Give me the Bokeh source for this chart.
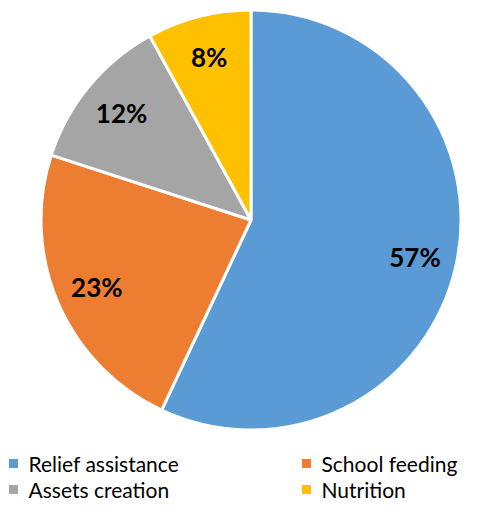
import math
from bokeh.plotting import figure
from bokeh.models import Range1d, ColumnDataSource
from bokeh.core.properties import value
from bokeh.embed import file_html
from bokeh.resources import INLINE

categories = ["Relief assistance", "School feeding", "Assets creation", "Nutrition"]
shares = [57, 23, 12, 8]
labels = ["57%", "23%", "12%", "8%"]
colors = ["#5B9BD5", "#ED7D31", "#A5A5A5", "#FFC000"]

W, H = 464, 505
p = figure(width=W, height=H, output_backend="svg", toolbar_location=None,
           x_range=Range1d(0, W), y_range=Range1d(0, H),
           min_border=0, outline_line_color=None)
p.axis.visible = False
p.grid.visible = False

# image coords -> data: x = img_x, y = H - img_y
cx, cy, r = 250.5, H - 219.5, 210.0
total = sum(shares)
starts, ends, lx, ly = [], [], [], []
cum = 0.0
for s in shares:
    a0 = math.pi / 2 - 2 * math.pi * cum / total
    a1 = math.pi / 2 - 2 * math.pi * (cum + s) / total
    mid = (a0 + a1) / 2
    starts.append(a0)
    ends.append(a1)
    lx.append(cx + 0.8 * r * math.cos(mid))
    ly.append(cy + 0.8 * r * math.sin(mid))
    cum += s

src = ColumnDataSource(dict(start=starts, end=ends, color=colors, lx=lx, ly=ly, label=labels))
p.wedge(x=cx, y=cy, radius=r, start_angle="start", end_angle="end", direction="clock",
        fill_color="color", line_color="white", line_width=3, source=src)
p.text(x="lx", y="ly", text="label", text_align="center", text_baseline="middle",
       text_font=value("Lato"), text_font_style="bold", text_font_size="26px",
       text_color="black", source=src)

# legend (2 x 2)
leg_x = [13, 306, 13, 306]
leg_y = [H - 463, H - 463, H - 489, H - 489]
leg = ColumnDataSource(dict(x=leg_x, y=leg_y, tx=[v + 15 for v in leg_x], color=colors, name=categories))
p.scatter(x="x", y="y", marker="square", size=9, fill_color="color", line_color=None, source=leg)
p.text(x="tx", y="y", text="name", text_align="left", text_baseline="middle",
       text_font=value("Lato"), text_font_size="21px", text_color="black", source=leg)

open("out.html", "w").write(file_html(p, INLINE))
